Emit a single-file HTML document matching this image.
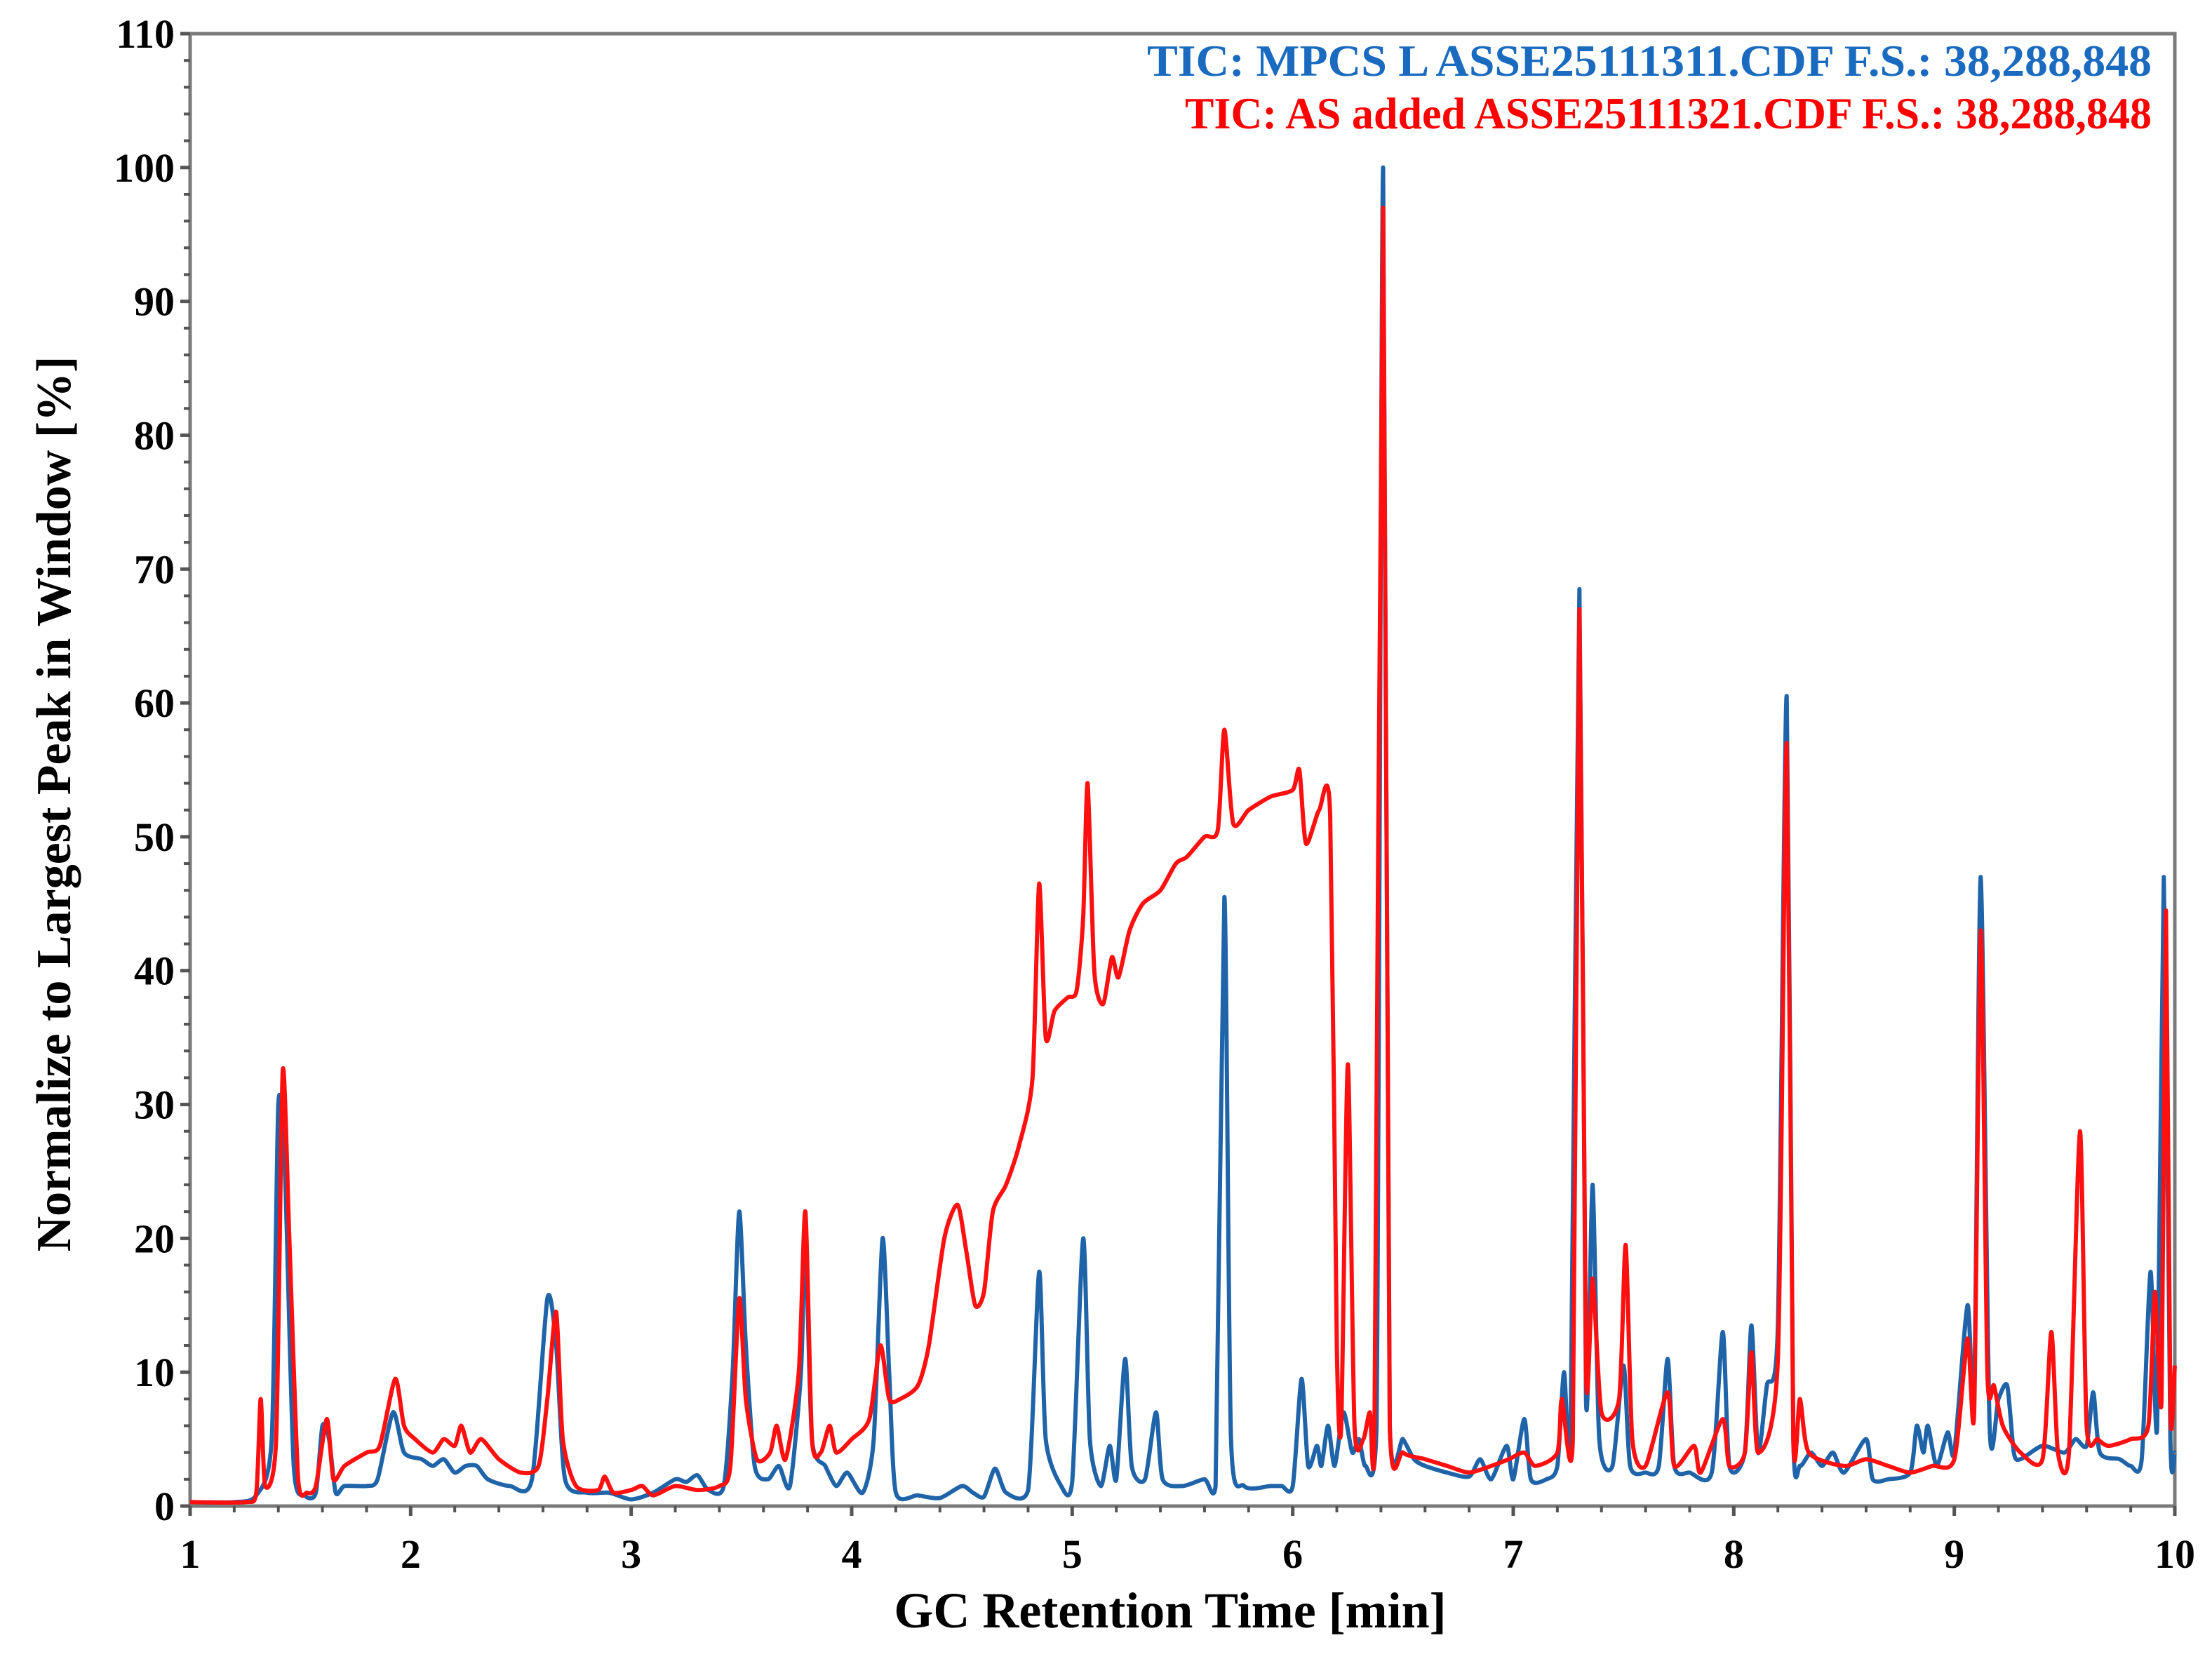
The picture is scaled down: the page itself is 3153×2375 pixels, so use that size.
<!DOCTYPE html>
<html><head><meta charset="utf-8"><style>
html,body{margin:0;padding:0;background:#fff;}
svg{display:block;}
text{font-family:"Liberation Serif",serif;font-weight:bold;}
</style></head><body>
<svg id="chart" width="3153" height="2375" viewBox="0 0 3153 2375" xmlns="http://www.w3.org/2000/svg">
<rect width="3153" height="2375" fill="#fff"/>
<g id="axes"></g>
<g id="series"></g>
<text x="3067" y="108" text-anchor="end" font-size="64" fill="#1a6bbf" textLength="1432" lengthAdjust="spacingAndGlyphs">TIC: MPCS L  ASSE25111311.CDF F.S.: 38,288,848</text>
<text x="3067" y="183" text-anchor="end" font-size="64" fill="#ff0000" textLength="1378" lengthAdjust="spacingAndGlyphs">TIC: AS added ASSE25111321.CDF F.S.: 38,288,848</text>
<text x="1668" y="2320" text-anchor="middle" font-size="72">GC Retention Time [min]</text>
<text transform="translate(100,1146) rotate(-90)" text-anchor="middle" font-size="70">Normalize to Largest Peak in Window [%]</text>
</svg>
<script>
const xTicks=[1,2,3,4,5,6,7,8,9,10];
const yTicks=[0,10,20,30,40,50,60,70,80,90,100,110];
const blueT=[1.0,1.2,1.3,1.37,1.40,1.43,1.47,1.52,1.57,1.60,1.63,1.66,1.7,1.8,1.85,1.92,1.97,2.05,2.1,2.15,2.2,2.25,2.3,2.35,2.45,2.55,2.62,2.66,2.7,2.8,2.9,3.0,3.1,3.2,3.25,3.3,3.35,3.42,3.46,3.49,3.52,3.56,3.62,3.67,3.72,3.77,3.79,3.82,3.88,3.93,3.98,4.05,4.1,4.14,4.17,4.2,4.3,4.4,4.5,4.55,4.6,4.65,4.7,4.8,4.85,4.88,4.95,5.0,5.05,5.08,5.13,5.17,5.2,5.24,5.27,5.33,5.38,5.41,5.5,5.6,5.65,5.69,5.72,5.78,5.9,5.95,6.0,6.04,6.07,6.11,6.13,6.16,6.19,6.23,6.27,6.3,6.33,6.38,6.41,6.44,6.5,6.55,6.6,6.7,6.8,6.85,6.9,6.97,7.0,7.05,7.08,7.15,7.2,7.23,7.26,7.3,7.33,7.36,7.39,7.45,7.5,7.53,7.6,7.66,7.7,7.73,7.8,7.9,7.95,7.98,8.05,8.08,8.11,8.15,8.2,8.24,8.27,8.3,8.35,8.4,8.45,8.5,8.6,8.63,8.7,8.8,8.83,8.86,8.88,8.92,8.97,9.0,9.06,9.09,9.12,9.16,9.2,9.24,9.27,9.3,9.4,9.5,9.55,9.6,9.63,9.66,9.75,9.8,9.85,9.89,9.92,9.95,9.98,10.0];
const blueV=[0.3,0.3,0.8,5,30,25,3,0.8,1,6,5,1,1.5,1.5,2,7,4,3.5,3,3.5,2.5,3,3,2,1.5,2,15.5,12,2,1,1,0.5,1,2,1.8,2.3,1.2,1.5,10,22,12,3,2,3,1.5,10,20,5,3,1.5,2.5,1,5,20,10,1,0.8,0.6,1.5,1,0.7,2.8,1,1.2,17.5,5,1.5,1.8,20,5,1.5,4.5,2,11,3,2,7,2,1.5,2,1.5,45.5,5,1.5,1.5,1.5,1.5,9.5,3,4.5,3,6,3,7,4,5,3,6,100,6,5,3.5,3,2.5,2.2,3.5,2,4.5,2,6.5,2,2,3,10,5,68.5,8,24,5,3,10.5,3,2.5,3,11,3,2.5,2.5,13,3,4,13.5,4,9,13.5,60.5,5,3,4,3,4,2.5,5,2,2,2.5,6,4,6,3,5.5,4,15,8,47,6,8,9,4,3.5,4.5,4,5,4.5,8.5,4,3.5,3,3.5,17.5,6,47,5,4];
const redT=[1.0,1.25,1.3,1.32,1.34,1.39,1.42,1.45,1.49,1.53,1.57,1.62,1.65,1.7,1.8,1.86,1.93,1.97,2.02,2.1,2.15,2.2,2.23,2.27,2.32,2.4,2.5,2.58,2.62,2.66,2.69,2.75,2.85,2.88,2.92,3.0,3.05,3.1,3.2,3.3,3.4,3.45,3.49,3.52,3.57,3.63,3.66,3.7,3.76,3.79,3.82,3.86,3.9,3.93,4.0,4.08,4.13,4.17,4.22,4.3,4.35,4.42,4.48,4.52,4.56,4.6,4.64,4.7,4.76,4.82,4.85,4.88,4.92,4.98,5.02,5.05,5.07,5.1,5.14,5.18,5.21,5.26,5.32,5.4,5.47,5.52,5.6,5.66,5.69,5.73,5.8,5.9,6.0,6.03,6.06,6.12,6.17,6.2,6.22,6.25,6.28,6.32,6.35,6.37,6.41,6.44,6.5,6.6,6.7,6.8,6.9,6.98,7.05,7.1,7.2,7.22,7.27,7.3,7.33,7.36,7.4,7.48,7.51,7.54,7.6,7.7,7.73,7.82,7.85,7.95,7.98,8.05,8.08,8.11,8.2,8.24,8.27,8.3,8.34,8.5,8.6,8.7,8.8,8.9,9.0,9.06,9.09,9.12,9.15,9.18,9.22,9.3,9.4,9.44,9.47,9.52,9.57,9.6,9.65,9.7,9.8,9.88,9.91,9.94,9.96,9.98,10.0];
const redV=[0.3,0.3,1,8,1.5,5,32.5,20,2,1,1.5,6.5,2,3,4,4.5,9.5,6,5,4,5,4.5,6,4,5,3.5,2.5,3,8,14.5,5,1.5,1.2,2.2,1,1.2,1.5,0.8,1.5,1.2,1.5,3,15.5,8,3.5,4,6,3.5,10,22,5,4,6,4,5,6.5,12,8,8,9,12,20,22.5,19,15,16,22,24,27,32,46.5,35,37,38,38.5,44,54,40,37.5,41,39.5,43,45,46,48,48.5,50,50.5,58,51,52,53,53.5,55,49.5,52,51.5,12,6,33,6,5,7,4,97,6,4,3.5,3,2.5,3,3.5,4,3,4,8,5,67,10,17,7,8,19.5,5,3,8.5,3,4.5,2.5,6.5,3,4,11.5,4,11,57,5,8,4,3,3.5,3,2.5,3,3.5,12.5,7,43,10,9,6,4,3.5,13,4,4,28,6,5,4.5,5,6,16,8,44.5,7,10.5];

const L=271,R=3100,T=48,B=2147;
const xScale=t=>L+(t-1)/9*(R-L);
const yScale=v=>B-v/110*(B-T);
const NS='http://www.w3.org/2000/svg';
const axes=document.getElementById('axes');
const series=document.getElementById('series');
function mk(tag,attrs,parent){const e=document.createElementNS(NS,tag);for(const k in attrs)e.setAttribute(k,attrs[k]);parent.appendChild(e);return e;}

const frame=mk('rect',{x:L,y:T,width:R-L,height:B-T,fill:'none',stroke:'#7a7a7a','stroke-width':5},axes);



for(let i=0;i<=45;i++){const t=1+i*0.2;const big=i%5===0;const x=xScale(t);
 const tk=mk('line',{x1:x,x2:x,y1:B,y2:B+(big?14:9),stroke:'#555','stroke-width':big?5:4},axes);
 
 }
for(let i=0;i<=55;i++){const v=i*2;const big=i%5===0;const y=yScale(v);
 const tk=mk('line',{x1:L-(big?14:9),x2:L,y1:y,y2:y,stroke:'#555','stroke-width':big?5:4},axes);
 
 }
xTicks.forEach(t=>{const tx=mk('text',{x:xScale(t),y:B+88,'text-anchor':'middle','font-size':58},axes);tx.textContent=t;
 
 });
yTicks.forEach(v=>{const tx=mk('text',{x:L-22,y:yScale(v)+20,'text-anchor':'end','font-size':58},axes);tx.textContent=v;
 
 });

function line(ts,vs,color,name){
 const P=ts.map((t,i)=>[xScale(t),yScale(vs[i])]);
 let d='M'+P[0][0].toFixed(1)+','+P[0][1].toFixed(1);
 for(let i=0;i<P.length-1;i++){
  const p0=P[Math.max(0,i-1)],p1=P[i],p2=P[i+1],p3=P[Math.min(P.length-1,i+2)];
  const k=0.12;
  let c1=[p1[0]+(p2[0]-p0[0])*k,p1[1]+(p2[1]-p0[1])*k];
  let c2=[p2[0]-(p3[0]-p1[0])*k,p2[1]-(p3[1]-p1[1])*k];
  c1[1]=Math.min(B,c1[1]);c2[1]=Math.min(B,c2[1]);
  d+='C'+c1[0].toFixed(1)+','+c1[1].toFixed(1)+' '+c2[0].toFixed(1)+','+c2[1].toFixed(1)+' '+p2[0].toFixed(1)+','+p2[1].toFixed(1);
 }
 const p=mk('path',{d:d,fill:'none',stroke:color,'stroke-width':6,'stroke-linejoin':'round'},series);
 
 }
line(blueT,blueV,'#1f63a8','series-mpcs-l-line');
line(redT,redV,'#ff1010','series-as-added-line');
</script>
</body></html>
